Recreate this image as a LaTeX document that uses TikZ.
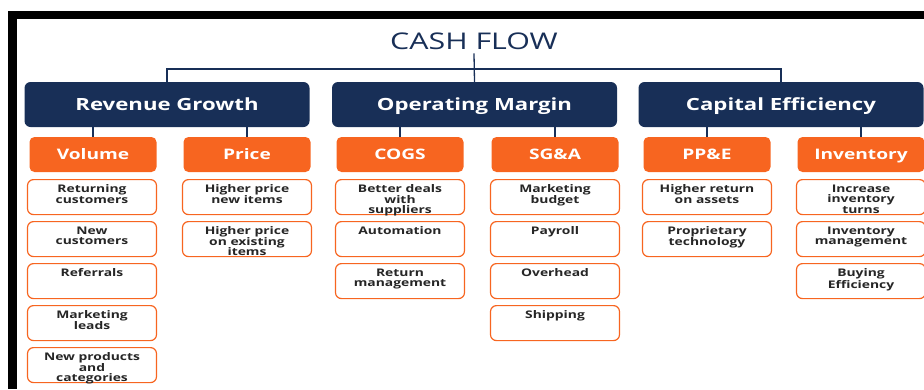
\documentclass[tikz,border=0pt]{standalone}
\usepackage{fontspec}
\setmainfont{Open Sans}[FakeStretch=1.32]
\usetikzlibrary{positioning}

\definecolor{navy}{HTML}{182F57}
\definecolor{orng}{HTML}{F76520}

\tikzset{
	pillar/.style={fill=navy, rounded corners=6pt, inner sep=0pt,
		minimum width=285pt, minimum height=45pt, text height=12pt, text depth=0pt,
		text=white, font=\fontsize{16.8}{16.8}\selectfont\bfseries},
	driver/.style={fill=orng, rounded corners=5pt, inner sep=0pt,
		minimum width=127pt, minimum height=35pt, text height=10.4pt, text depth=0pt,
		text=white, font=\fontsize{14.5}{14.5}\selectfont\bfseries},
	lever/.style={draw=orng, line width=1.2pt, fill=white, rounded corners=6pt,
		minimum width=129pt, minimum height=35pt, anchor=north, inner sep=0pt,
		text=black!85, font=\fontsize{10.5}{10.5}\selectfont\bfseries},
	link/.style={draw=navy, line width=1.3pt},
}
% text of a lever box sits at its top
\newcommand\toptext[1]{\parbox[t][25pt][t]{126pt}{\centering #1}}

\begin{document}
\begin{tikzpicture}[x=1pt, y=-1pt]

	\useasboundingbox (0,0) rectangle (924,389);

	\def\xVol{93}
	\def\xPri{247}
	\def\xCog{400}
	\def\xSga{555}
	\def\xPpe{707}
	\def\xInv{861}
	%
	\def\yTop{179}
	\def\dy{42}

	% frame
	\fill (8,11) rectangle (924,19);
	\fill (8,11) rectangle (17,389);

	% title and pillars
	\node[font=\fontsize{23}{23}\selectfont, text=navy, inner sep=0pt,
		text height=16.4pt, text depth=0pt] (cash) at (474,41) {CASH FLOW};
	\node[pillar] (rev) at (167,104.5) {Revenue Growth};
	\node[pillar] (opm) at (474.5,104.5) {Operating Margin};
	\node[pillar] (cap) at (781,104.5) {Capital Efficiency};
	\coordinate (bus) at (474,69);

	% drivers
	\node[driver] (vol) at (\xVol,154.5) {Volume};
	\node[driver] (pri) at (\xPri,154.5) {Price};
	\node[driver] (cog) at (\xCog,154.5) {COGS};
	\node[driver] (sga) at (\xSga,154.5) {SG\&A};
	\node[driver] (ppe) at (\xPpe,154.5) {PP\&E};
	\node[driver] (inv) at (\xInv,154.5) {Inventory};

	\draw[link] (cash.south) ++(0,4) -- (opm.north);
	\draw[link] (rev.north) |- (bus) -| (cap.north);
	\foreach \d/\p in {vol/rev, pri/rev, cog/opm, sga/opm, ppe/cap, inv/cap}
		\draw[link] (\p.south -| \d.north) -- (\d.north);

	% levers under each driver
	\foreach \t [count=\i] in {{Returning\\customers}, {New\\customers}, Referrals,
			{Marketing\\leads}, {New products\\and\\categories}}
		\node[lever] (vol-\i) at (92, {\yTop+\dy*(\i-1)}) {\toptext{\t}};
	\foreach \t [count=\i] in {{Higher price\\new items}, {Higher price\\on existing\\items}}
		\node[lever] (pri-\i) at (\xPri, {\yTop+\dy*(\i-1)}) {\toptext{\t}};
	\foreach \t [count=\i] in {{Better deals\\with\\suppliers}, Automation, {Return\\management}}
		\node[lever] (cog-\i) at (\xCog, {\yTop+\dy*(\i-1)}) {\toptext{\t}};
	\foreach \t [count=\i] in {{Marketing\\budget}, Payroll, Overhead, Shipping}
		\node[lever] (sga-\i) at (\xSga, {\yTop+\dy*(\i-1)}) {\toptext{\t}};
	\foreach \t [count=\i] in {{Higher return\\on assets}, {Proprietary\\technology}}
		\node[lever] (ppe-\i) at (\xPpe, {\yTop+\dy*(\i-1)}) {\toptext{\t}};
	\foreach \t [count=\i] in {{Increase\\inventory\\turns}, {Inventory\\management}, {Buying\\Efficiency}}
		\node[lever] (inv-\i) at (\xInv, {\yTop+\dy*(\i-1)}) {\toptext{\t}};

\end{tikzpicture}
\end{document}
